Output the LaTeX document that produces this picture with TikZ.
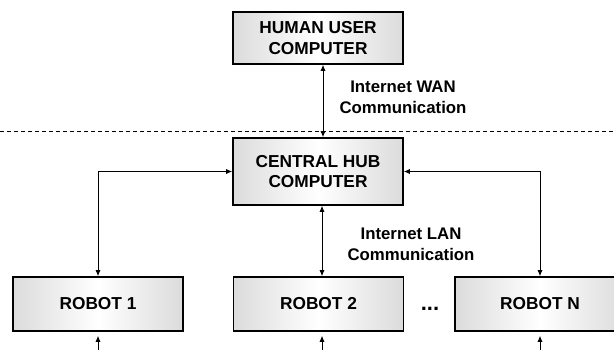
\documentclass[tikz,border=0pt]{standalone}
\usepackage{fontspec}
\setmainfont{Liberation Sans}
\usetikzlibrary{arrows.meta}

\tikzset{
  unitbox/.style={draw=black, line width=1.6pt,
    left color=gray!28, right color=gray!28, middle color=white,
    minimum width=170pt, align=center, inner sep=0pt,
    font=\fontsize{17.3}{20.5}\selectfont\bfseries},
  arr/.style={line width=0.8pt, -{Latex[length=6pt,width=5pt]}},
  twoarr/.style={line width=0.8pt, {Latex[length=6pt,width=5pt]}-{Latex[length=6pt,width=5pt]}},
  lbl/.style={align=center, font=\fontsize{16.8}{21}\selectfont\bfseries},
}

\begin{document}
\begin{tikzpicture}[x=1pt,y=-1pt]
\useasboundingbox (0,0) rectangle (614,350);
\clip (0,0) rectangle (614,350);

% computers and robots
\node[unitbox, minimum height=52pt] (hum) at (318,38) {HUMAN USER\\COMPUTER};
\node[unitbox, minimum height=67pt] (hub) at (318,171.5) {CENTRAL HUB\\COMPUTER};
\node[unitbox, minimum height=54pt] (r1) at (98,304) {ROBOT 1};
\node[unitbox, minimum height=54pt] (r2) at (318.5,304) {ROBOT 2};
\node[unitbox, minimum height=54pt] (rn) at (540,304) {ROBOT N};
\node[font=\fontsize{22}{22}\selectfont\bfseries] (dots) at (430,309) {...};

% WAN / LAN boundary
\coordinate (dl) at (0,131);
\coordinate (dr) at (614,131);
\draw[dash pattern=on 4pt off 3pt, line width=0.8pt] (dl) -- (dr);

% links
\draw[twoarr] ([xshift=5pt]hum.south) -- ([xshift=5pt]hub.north);
\draw[twoarr] (hub.west) -| (r1.north);
\draw[twoarr] (hub.east) -| (rn.north);
\draw[twoarr] ([xshift=4pt]hub.south) -- ([xshift=4pt]hub.south |- r2.north);

\node[lbl] (wan) at (403,97.5) {Internet WAN\\Communication};
\node[lbl] (lan) at (411,244.5) {Internet LAN\\Communication};

% inputs below the robots
\coordinate (b1) at (98,352);
\coordinate (b2) at (322,352);
\coordinate (bn) at (540,352);
\draw[arr, shorten >=4pt] (b1) -- (r1.south);
\draw[arr, shorten >=4pt] (b2) -- (b2 |- r2.south);
\draw[arr, shorten >=4pt] (bn) -- (rn.south);
\end{tikzpicture}
\end{document}
